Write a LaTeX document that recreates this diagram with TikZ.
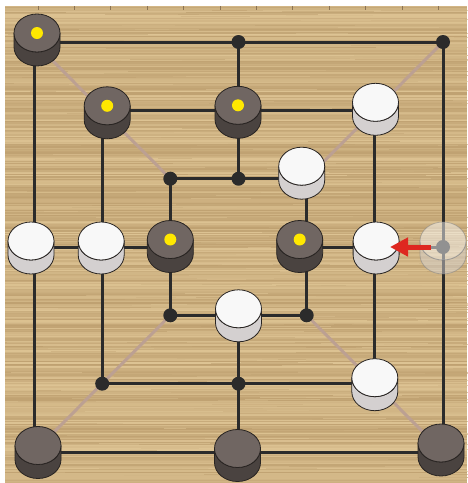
\documentclass[tikz,border=0pt]{standalone}
\usetikzlibrary{arrows.meta}

\definecolor{woodlight}{RGB}{222,196,148}
\definecolor{wooddark}{RGB}{190,160,112}
\definecolor{woodseam}{RGB}{140,116,84}
\definecolor{gridline}{RGB}{43,43,43}
\definecolor{crosscol}{RGB}{188,160,146}
\definecolor{darkface}{RGB}{112,102,98}
\definecolor{darkside}{RGB}{74,67,64}
\definecolor{pieceedge}{RGB}{40,36,34}
\definecolor{lightface}{RGB}{248,248,248}
\definecolor{lightside}{RGB}{212,208,208}
\definecolor{marker}{RGB}{255,232,0}
\definecolor{moveright}{RGB}{222,40,32}

% one playing piece: a short cylinder seen from slightly above
\newcommand\drawman[4]{%
  \path[fill=#1, draw=#3, line width=0.8pt, fill opacity=#4, draw opacity=#4]
    (-23,-6) -- (-23,8) arc[start angle=180, end angle=0, x radius=23, y radius=19]
    -- (23,-6) arc[start angle=0, end angle=180, x radius=23, y radius=19] -- cycle;
  \path[fill=#2, draw=#3, line width=0.8pt, fill opacity=#4, draw opacity=#4]
    (0,-6) ellipse[x radius=23, y radius=19];
}

\tikzset{
  boardline/.style={draw=gridline, line width=3pt},
  crossline/.style={draw=crosscol, line width=3pt},
  spot/.style={circle, fill=gridline, inner sep=0pt, minimum size=14pt},
  movearrow/.style={draw=moveright, line width=5pt, -{Triangle[length=18pt,width=18pt]}},
  darkman/.pic={\drawman{darkside}{darkface}{pieceedge}{1}},
  darkmarked/.pic={\drawman{darkside}{darkface}{pieceedge}{1}
                   \fill[marker] (0,-6) circle[radius=6];},
  lightman/.pic={\drawman{lightside}{lightface}{pieceedge}{1}},
  ghostman/.pic={\drawman{lightside}{lightface}{gray}{0.5}},
}

\begin{document}
\begin{tikzpicture}[x=1pt,y=-1pt]
\useasboundingbox (0,0) rectangle (467,483);
\fill[white] (0,0) rectangle (467,483);

% wooden board: fine horizontal grain
\pgfmathsetseed{42}
\foreach \k in {0,...,398}{
  \pgfmathsetmacro\yy{6+1.2*\k}
  \pgfmathtruncatemacro\mix{50+48*rand}
  \fill[woodlight!\mix!wooddark] (5,\yy) rectangle (467,\yy+1.3);
}
\foreach \k in {1,...,320}{
  \pgfmathsetmacro\xx{5+462*rnd}
  \pgfmathsetmacro\yy{7+474*rnd}
  \pgfmathsetmacro\ll{20+120*rnd}
  \pgfmathtruncatemacro\mix{100*rnd}
  \fill[woodlight!\mix!wooddark, opacity=0.6] (\xx,\yy) rectangle (\xx+\ll,\yy+0.8);
}
\foreach \k in {0,...,11}{
  \draw[woodseam, line width=0.8pt] (38+36.4*\k,6) -- ++(0,3.5);
}

% board points
\foreach \c/\px in {0/34,1/102.2,2/170.3,3/238.5,4/306.7,5/374.8,6/443}{
  \foreach \r/\py in {0/42,1/110.3,2/178.7,3/247,4/315.3,5/383.7,6/452}{
    \coordinate (p\c\r) at (\px,\py);
  }
}

% corner diagonals
\draw[crossline] (p00) -- (p22);
\draw[crossline] (p60) -- (p42);
\draw[crossline] (p06) -- (p24);
\draw[crossline] (p66) -- (p44);

% squares and connecting lines
\draw[boardline] (p00) rectangle (p66);
\draw[boardline] (p11) rectangle (p55);
\draw[boardline] (p22) rectangle (p44);
\draw[boardline] (p30) -- (p32);
\draw[boardline] (p34) -- (p36);
\draw[boardline] (p03) -- (p23);
\draw[boardline] (p43) -- (p63);

% empty points
\foreach \q in {30,60,22,32,24,44,15,35,63}{
  \node[spot] (s\q) at (p\q) {};
}

% pieces
\pic[shift={(3,-3)}]    at (p00) {darkmarked};
\pic[shift={(5,1.5)}]   at (p11) {darkmarked};
\pic[shift={(-0.5,1)}]  at (p31) {darkmarked};
\pic[shift={(0.7,-2)}]  at (p51) {lightman};
\pic[shift={(-5,-6.5)}] at (p42) {lightman};
\pic[shift={(-3,0)}]    at (p03) {lightman};
\pic[shift={(-1,0)}]    at (p13) {lightman};
\pic[shift={(0,-1.5)}]  at (p23) {darkmarked};
\pic[shift={(-7,-1.5)}] at (p43) {darkmarked};
\pic[shift={(1.3,0)}]   at (p53) {lightman};
\pic                    at (p63) {ghostman};
\pic[shift={(0,-0.5)}]  at (p34) {lightman};
\pic                    at (p55) {lightman};
\pic[shift={(4,-0.5)}]  at (p06) {darkman};
\pic[shift={(-1,2.5)}]  at (p36) {darkman};
\pic[shift={(-2,-3)}]   at (p66) {darkman};

% last move
\coordinate (movefrom) at (431,247);
\coordinate (moveto) at (390,247);
\draw[movearrow] (movefrom) -- (moveto);
\end{tikzpicture}
\end{document}
